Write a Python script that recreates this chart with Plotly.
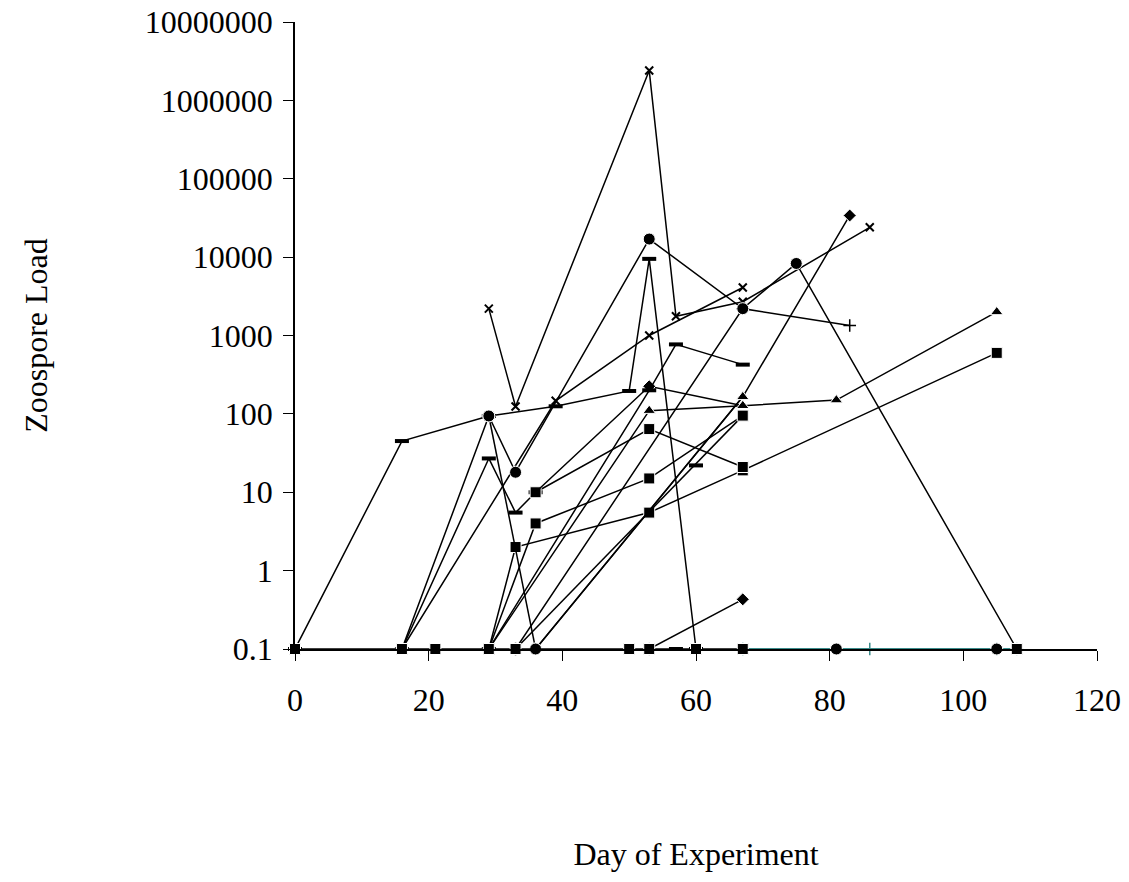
import plotly.graph_objects as go

# Axis ticks
x_ticks = [0, 20, 40, 60, 80, 100, 120]
y_ticks = [0.1, 1, 10, 100, 1000, 10000, 100000, 1000000, 10000000]
y_tick_text = ["0.1", "1", "10", "100", "1000", "10000", "100000", "1000000", "10000000"]

# Individual zoospore-load series (day, load)
days_a = [0, 16, 29, 39, 50, 53, 60]
load_a = [0.1, 45, 94, 125, 196, 9500, 0.1]

days_b = [16, 29, 33, 53, 67, 75, 108]
load_b = [0.1, 94, 18, 17000, 2200, 8300, 0.1]

days_c = [16, 39, 53, 67]
load_c = [0.1, 147, 1000, 4100]

days_d = [29, 33, 53, 57, 67, 86]
load_d = [2200, 124, 2400000, 1760, 2700, 24000]

days_e = [29, 36]
load_e = [94, 0.1]

days_f = [16, 29, 33, 36]
load_f = [0.1, 27, 5.5, 10]

days_g = [29, 33, 53, 67, 105]
load_g = [0.1, 2, 5.5, 19, 600]

days_h = [29, 36, 53, 67]
load_h = [0.1, 4, 15, 95]

days_i = [36, 53, 67]
load_i = [10, 64, 21]

days_j = [29, 53, 67, 81, 105]
load_j = [0.1, 110, 127, 150, 2000]

days_k = [29, 53, 57, 67]
load_k = [0.1, 200, 770, 425]

days_l = [36, 53, 67]
load_l = [10, 225, 127]

days_m = [36, 67]
load_m = [0.1, 165]

days_n = [33, 67, 83]
load_n = [0.1, 2200, 1340]

days_o = [36, 67, 83]
load_o = [0.1, 165, 34000]

days_p = [53, 67]
load_p = [0.1, 0.43]

days_r = [33, 67]
load_r = [0.1, 95]

days_q = [60]
load_q = [22]

# Teal series lying on the detection floor
days_teal = [67, 86, 105, 108]
load_teal = [0.1, 0.1, 0.1, 0.1]

# Samples below detection, plotted at the 0.1 floor
days_zero_sq = [0, 16, 21, 29, 33, 50, 53, 60, 67]
load_zero_sq = [0.1] * len(days_zero_sq)

days_zero_end = [108]
load_zero_end = [0.1]

days_zero_ci = [36]
load_zero_ci = [0.1]

days_zero_ci_late = [81, 105]
load_zero_ci_late = [0.1, 0.1]

days_zero_da = [57]
load_zero_da = [0.1]

BLACK = "#000000"
TEAL = "#3a8c8c"

MK = {
    "square": dict(symbol="square", size=11),
    "circle": dict(symbol="circle", size=12),
    "triangle": dict(symbol="triangle-up", size=11),
    "diamond": dict(symbol="diamond", size=10),
    "dash": dict(symbol="line-ew", size=10, lw=4),
    "x": dict(symbol="x-thin", size=8, lw=2),
    "plus": dict(symbol="cross-thin", size=9, lw=1.5),
}

# Days on which a series' own marker sits underneath another series' marker
HIDDEN_MARKS = {
    "l": {36, 67},
    "o": {36, 67},
}

# (name, days, loads, marker, colour, draw connecting line)
series = [
    ("teal", days_teal, load_teal, "plus", TEAL, True),
    ("a", days_a, load_a, "dash", BLACK, True),
    ("c", days_c, load_c, "x", BLACK, True),
    ("d", days_d, load_d, "x", BLACK, True),
    ("f", days_f, load_f, "dash", BLACK, True),
    ("g", days_g, load_g, "square", BLACK, True),
    ("h", days_h, load_h, "square", BLACK, True),
    ("i", days_i, load_i, "square", BLACK, True),
    ("r", days_r, load_r, "square", BLACK, True),
    ("l", days_l, load_l, "diamond", BLACK, True),
    ("o", days_o, load_o, "diamond", BLACK, True),
    ("j", days_j, load_j, "triangle", BLACK, True),
    ("m", days_m, load_m, "triangle", BLACK, True),
    ("k", days_k, load_k, "dash", BLACK, True),
    ("n", days_n, load_n, "plus", BLACK, True),
    ("p", days_p, load_p, "diamond", BLACK, True),
    ("q", days_q, load_q, "dash", BLACK, True),
    ("b", days_b, load_b, "circle", BLACK, True),
    ("e", days_e, load_e, "circle", BLACK, True),
    ("zero_da", days_zero_da, load_zero_da, "dash", BLACK, False),
    ("zero_ci", days_zero_ci, load_zero_ci, "circle", BLACK, False),
    ("zero_ci_late", days_zero_ci_late, load_zero_ci_late, "circle", BLACK, False),
    ("zero_sq", days_zero_sq, load_zero_sq, "square", BLACK, True),
    ("zero_end", days_zero_end, load_zero_end, "square", BLACK, False),
]

fig = go.Figure()
for name, xs, ys, mk, col, joined in series:
    spec = MK[mk]
    hidden = HIDDEN_MARKS.get(name, set())
    sizes = [0 if d in hidden else spec["size"] for d in xs]
    marker = dict(symbol=spec["symbol"], size=sizes, color=col, opacity=1)
    if "lw" in spec:
        marker["line"] = dict(width=spec["lw"], color=col)
    fig.add_trace(go.Scatter(
        x=xs, y=ys, mode="lines+markers" if joined else "markers",
        line=dict(color=col, width=1.8 if col == TEAL else 1.5),
        marker=marker, showlegend=False, cliponaxis=False,
    ))

font = dict(family="Liberation Serif, Times New Roman, serif", color="black")

fig.update_layout(
    width=1129, height=882,
    margin=dict(l=295, r=32, t=22, b=233),
    paper_bgcolor="white", plot_bgcolor="white",
    font=dict(**font, size=32),
    xaxis=dict(
        range=[0, 120], tickvals=x_ticks, ticktext=[str(v) for v in x_ticks],
        showline=True, linecolor="black", linewidth=1.5,
        ticks="outside", ticklen=10, tickwidth=1.3, tickcolor="black",
        showgrid=False, zeroline=False, ticklabelstandoff=12,
        tickfont=dict(**font, size=32), automargin=False,
        title=dict(text="Day of Experiment", font=dict(**font, size=32), standoff=125),
    ),
    yaxis=dict(
        type="log", range=[-1, 7], tickvals=y_ticks, ticktext=y_tick_text,
        showline=True, linecolor="black", linewidth=1.5,
        ticks="outside", ticklen=10, tickwidth=1.3, tickcolor="black",
        showgrid=False, zeroline=False, ticklabelstandoff=4,
        tickfont=dict(**font, size=32), automargin=False,
        title=dict(text="Zoospore Load", font=dict(**font, size=32), standoff=88),
    ),
)

fig.write_html("out.html")
